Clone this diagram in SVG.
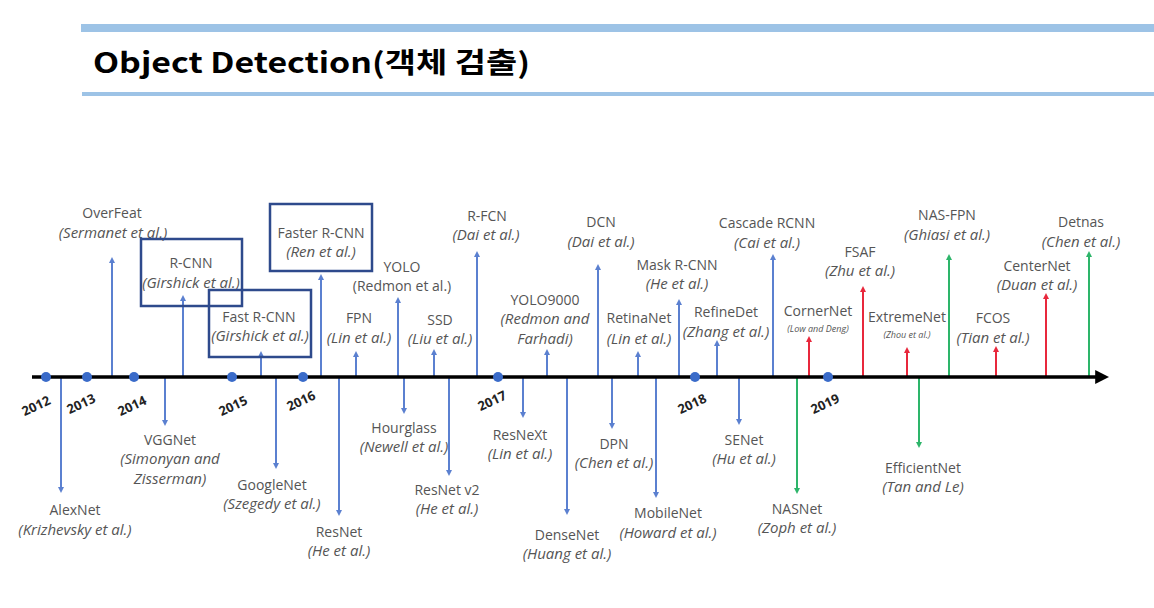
<svg xmlns="http://www.w3.org/2000/svg" width="1154" height="608" viewBox="0 0 1154 608">
<style>
.t{font-family:"Open Sans","Liberation Sans",sans-serif;font-size:14px;fill:#555;text-anchor:middle}
.i{font-style:italic;font-size:15px}
.s{font-size:9px}
.yr{font-family:"Open Sans","Liberation Sans",sans-serif;font-size:13px;font-weight:bold;fill:#222;text-anchor:middle}
.b{stroke:#5B80D0;stroke-width:2;fill:none}
.r{stroke:#E8283C;stroke-width:2;fill:none}
.g{stroke:#2DB56A;stroke-width:2;fill:none}
.box{fill:none;stroke:#2E4A8C;stroke-width:2.5}
.dot{fill:#3A6BC9}
</style>
<defs>
<marker id="ab" viewBox="0 0 6 6" refX="3" refY="3" markerWidth="3" markerHeight="3" orient="auto"><path d="M0,0 L6,3 L0,6 z" fill="#5B80D0"/></marker>
<marker id="ar" viewBox="0 0 6 6" refX="3" refY="3" markerWidth="3" markerHeight="3" orient="auto"><path d="M0,0 L6,3 L0,6 z" fill="#E8283C"/></marker>
<marker id="ag" viewBox="0 0 6 6" refX="3" refY="3" markerWidth="3" markerHeight="3" orient="auto"><path d="M0,0 L6,3 L0,6 z" fill="#2DB56A"/></marker>
<marker id="ak" viewBox="0 0 10 10" refX="2" refY="5" markerWidth="4" markerHeight="4" orient="auto"><path d="M0,0 L10,5 L0,10 z" fill="#000"/></marker>
</defs>
<g id="header">
<rect x="81" y="24" width="1073" height="8" fill="#9DC3E6"/>
<rect x="82" y="92" width="1072" height="4" fill="#9DC3E6"/>
<text x="93" y="73" font-family="'Noto Sans CJK KR','Noto Sans',sans-serif" font-size="28" font-weight="bold" fill="#000" textLength="437" lengthAdjust="spacingAndGlyphs">Object Detection(객체 검출)</text>
</g>
<g id="connectors">
<line class="b" x1="112" y1="377" x2="112" y2="260" marker-end="url(#ab)"/>
<line class="b" x1="183" y1="377" x2="183" y2="298" marker-end="url(#ab)"/>
<line class="b" x1="261" y1="377" x2="261" y2="354" marker-end="url(#ab)"/>
<line class="b" x1="321" y1="377" x2="321" y2="277" marker-end="url(#ab)"/>
<line class="b" x1="356" y1="377" x2="356" y2="354" marker-end="url(#ab)"/>
<line class="b" x1="398" y1="377" x2="398" y2="300" marker-end="url(#ab)"/>
<line class="b" x1="434" y1="377" x2="434" y2="352" marker-end="url(#ab)"/>
<line class="b" x1="477" y1="377" x2="477" y2="254" marker-end="url(#ab)"/>
<line class="b" x1="547" y1="377" x2="547" y2="352" marker-end="url(#ab)"/>
<line class="b" x1="598" y1="377" x2="598" y2="267" marker-end="url(#ab)"/>
<line class="b" x1="638" y1="377" x2="638" y2="354" marker-end="url(#ab)"/>
<line class="b" x1="679" y1="377" x2="679" y2="302" marker-end="url(#ab)"/>
<line class="b" x1="717" y1="377" x2="717" y2="343" marker-end="url(#ab)"/>
<line class="b" x1="773" y1="377" x2="773" y2="257" marker-end="url(#ab)"/>
<line class="r" x1="809" y1="377" x2="809" y2="339" marker-end="url(#ar)"/>
<line class="r" x1="863" y1="377" x2="863" y2="289" marker-end="url(#ar)"/>
<line class="r" x1="907" y1="377" x2="907" y2="350" marker-end="url(#ar)"/>
<line class="g" x1="949" y1="377" x2="949" y2="257" marker-end="url(#ag)"/>
<line class="r" x1="996" y1="377" x2="996" y2="349" marker-end="url(#ar)"/>
<line class="r" x1="1046" y1="377" x2="1046" y2="296" marker-end="url(#ar)"/>
<line class="g" x1="1089" y1="377" x2="1089" y2="254" marker-end="url(#ag)"/>
<line class="b" x1="61" y1="377" x2="61" y2="490" marker-end="url(#ab)"/>
<line class="b" x1="165" y1="377" x2="165" y2="423" marker-end="url(#ab)"/>
<line class="b" x1="276" y1="377" x2="276" y2="466" marker-end="url(#ab)"/>
<line class="b" x1="339" y1="377" x2="339" y2="513" marker-end="url(#ab)"/>
<line class="b" x1="404" y1="377" x2="404" y2="411" marker-end="url(#ab)"/>
<line class="b" x1="449" y1="377" x2="449" y2="473" marker-end="url(#ab)"/>
<line class="b" x1="523" y1="377" x2="523" y2="415" marker-end="url(#ab)"/>
<line class="b" x1="567" y1="377" x2="567" y2="512" marker-end="url(#ab)"/>
<line class="b" x1="612" y1="377" x2="612" y2="426" marker-end="url(#ab)"/>
<line class="b" x1="656" y1="377" x2="656" y2="495" marker-end="url(#ab)"/>
<line class="b" x1="739" y1="377" x2="739" y2="422" marker-end="url(#ab)"/>
<line class="g" x1="797" y1="377" x2="797" y2="491" marker-end="url(#ag)"/>
<line class="g" x1="919" y1="377" x2="919" y2="445" marker-end="url(#ag)"/>
</g>
<g id="axis">
<line x1="32" y1="377" x2="1098" y2="377" stroke="#000" stroke-width="3.5" marker-end="url(#ak)"/>
<circle class="dot" cx="46" cy="377" r="5"/>
<circle class="dot" cx="87" cy="377" r="5"/>
<circle class="dot" cx="134" cy="377" r="5"/>
<circle class="dot" cx="232" cy="377" r="5"/>
<circle class="dot" cx="303" cy="377" r="5"/>
<circle class="dot" cx="498" cy="377" r="5"/>
<circle class="dot" cx="695" cy="377" r="5"/>
<circle class="dot" cx="828" cy="377" r="5"/>
<text class="yr" transform="translate(38,410) rotate(-25)">2012</text>
<text class="yr" transform="translate(83,408) rotate(-25)">2013</text>
<text class="yr" transform="translate(134,410) rotate(-25)">2014</text>
<text class="yr" transform="translate(235,410) rotate(-25)">2015</text>
<text class="yr" transform="translate(303,405) rotate(-25)">2016</text>
<text class="yr" transform="translate(494,405) rotate(-25)">2017</text>
<text class="yr" transform="translate(694,408) rotate(-25)">2018</text>
<text class="yr" transform="translate(827,408) rotate(-25)">2019</text>
</g>
<g id="overfeat"><text class="t" x="112" y="218">OverFeat</text><text class="t i" x="113" y="238">(Sermanet et al.)</text></g>
<g id="rcnn"><rect class="box" x="141" y="239" width="101" height="67"/><text class="t" x="191" y="268">R-CNN</text><text class="t i" x="191" y="288">(Girshick et al.)</text></g>
<g id="fastrcnn"><rect class="box" x="209" y="290" width="102" height="67"/><text class="t" x="259" y="322">Fast R-CNN</text><text class="t i" x="260" y="341">(Girshick et al.)</text></g>
<g id="fasterrcnn"><rect class="box" x="270" y="204" width="102" height="67"/><text class="t" x="321" y="238">Faster R-CNN</text><text class="t i" x="321" y="257">(Ren et al.)</text></g>
<g id="fpn"><text class="t" x="359" y="323">FPN</text><text class="t i" x="359" y="343">(Lin et al.)</text></g>
<g id="yolo"><text class="t" x="402" y="272">YOLO</text><text class="t" x="402" y="291">(Redmon et al.)</text></g>
<g id="ssd"><text class="t" x="440" y="325">SSD</text><text class="t i" x="440" y="344">(Liu et al.)</text></g>
<g id="rfcn"><text class="t" x="487" y="221">R-FCN</text><text class="t i" x="486" y="240">(Dai et al.)</text></g>
<g id="yolo9000"><text class="t" x="545" y="305">YOLO9000</text><text class="t i" x="545" y="324">(Redmon and</text><text class="t i" x="545" y="344">Farhadi)</text></g>
<g id="dcn"><text class="t" x="601" y="227">DCN</text><text class="t i" x="601" y="247">(Dai et al.)</text></g>
<g id="retinanet"><text class="t" x="639" y="323">RetinaNet</text><text class="t i" x="639" y="344">(Lin et al.)</text></g>
<g id="maskrcnn"><text class="t" x="677" y="270">Mask R-CNN</text><text class="t i" x="677" y="289">(He et al.)</text></g>
<g id="refinedet"><text class="t" x="726" y="317">RefineDet</text><text class="t i" x="726" y="337">(Zhang et al.)</text></g>
<g id="cascadercnn"><text class="t" x="767" y="228">Cascade RCNN</text><text class="t i" x="767" y="248">(Cai et al.)</text></g>
<g id="cornernet"><text class="t" x="818" y="316">CornerNet</text><text class="t i s" x="818" y="332">(Low and Deng)</text></g>
<g id="fsaf"><text class="t" x="860" y="257">FSAF</text><text class="t i" x="860" y="276">(Zhu et al.)</text></g>
<g id="extremenet"><text class="t" x="907" y="322">ExtremeNet</text><text class="t i s" x="907" y="338">(Zhou et al.)</text></g>
<g id="nasfpn"><text class="t" x="947" y="220">NAS-FPN</text><text class="t i" x="947" y="240">(Ghiasi et al.)</text></g>
<g id="fcos"><text class="t" x="993" y="323">FCOS</text><text class="t i" x="993" y="343">(Tian et al.)</text></g>
<g id="centernet"><text class="t" x="1037" y="271">CenterNet</text><text class="t i" x="1037" y="290">(Duan et al.)</text></g>
<g id="detnas"><text class="t" x="1081" y="227">Detnas</text><text class="t i" x="1081" y="247">(Chen et al.)</text></g>
<g id="alexnet"><text class="t" x="75" y="515">AlexNet</text><text class="t i" x="75" y="535">(Krizhevsky et al.)</text></g>
<g id="vggnet"><text class="t" x="170" y="445">VGGNet</text><text class="t i" x="170" y="464">(Simonyan and</text><text class="t i" x="170" y="484">Zisserman)</text></g>
<g id="googlenet"><text class="t" x="272" y="490">GoogleNet</text><text class="t i" x="272" y="509">(Szegedy et al.)</text></g>
<g id="resnet"><text class="t" x="339" y="537">ResNet</text><text class="t i" x="339" y="556">(He et al.)</text></g>
<g id="hourglass"><text class="t" x="404" y="433">Hourglass</text><text class="t i" x="404" y="452">(Newell et al.)</text></g>
<g id="resnetv2"><text class="t" x="447" y="495">ResNet v2</text><text class="t i" x="447" y="514">(He et al.)</text></g>
<g id="resnext"><text class="t" x="520" y="440">ResNeXt</text><text class="t i" x="520" y="459">(Lin et al.)</text></g>
<g id="densenet"><text class="t" x="567" y="540">DenseNet</text><text class="t i" x="567" y="559">(Huang et al.)</text></g>
<g id="dpn"><text class="t" x="614" y="449">DPN</text><text class="t i" x="614" y="468">(Chen et al.)</text></g>
<g id="mobilenet"><text class="t" x="668" y="518">MobileNet</text><text class="t i" x="668" y="538">(Howard et al.)</text></g>
<g id="senet"><text class="t" x="744" y="445">SENet</text><text class="t i" x="744" y="464">(Hu et al.)</text></g>
<g id="nasnet"><text class="t" x="797" y="514">NASNet</text><text class="t i" x="797" y="533">(Zoph et al.)</text></g>
<g id="efficientnet"><text class="t" x="923" y="473">EfficientNet</text><text class="t i" x="923" y="492">(Tan and Le)</text></g>
</svg>
